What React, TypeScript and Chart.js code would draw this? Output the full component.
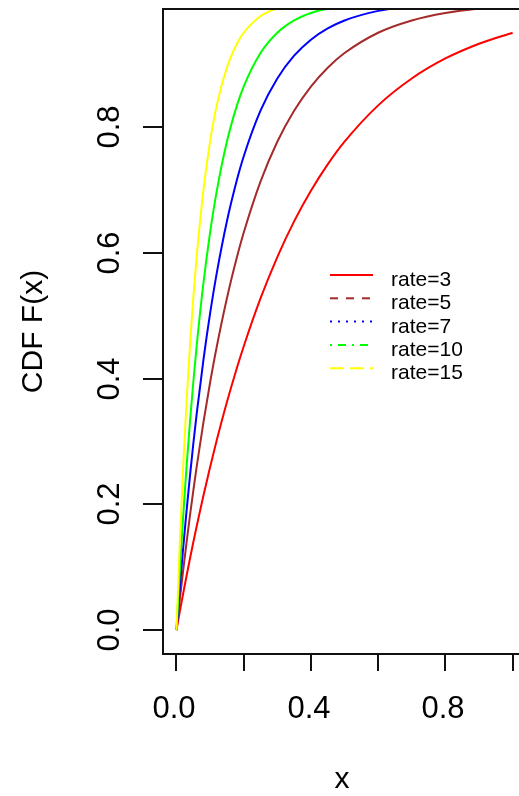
import React, { useEffect, useRef } from "react";
import { Chart, registerables } from "chart.js";

Chart.register(...registerables);

// ---- data ----
const xValues = [0, 0.01, 0.02, 0.03, 0.04, 0.05, 0.06, 0.08, 0.1, 0.12, 0.15, 0.18, 0.2, 0.25, 0.3, 0.35, 0.4, 0.45, 0.5, 0.6, 0.7, 0.8, 0.9, 1.0];
const rate3 = [0, 0.0296, 0.0582, 0.0861, 0.1131, 0.1393, 0.1647, 0.2134, 0.2592, 0.3023, 0.3624, 0.4173, 0.4512, 0.5276, 0.5934, 0.6501, 0.6988, 0.7408, 0.7769, 0.8347, 0.8775, 0.9093, 0.9328, 0.9502];
const rate5 = [0, 0.0488, 0.0952, 0.1393, 0.1813, 0.2212, 0.2592, 0.3297, 0.3935, 0.4512, 0.5276, 0.5934, 0.6321, 0.7135, 0.7769, 0.8262, 0.8647, 0.8946, 0.9179, 0.9502, 0.9698, 0.9817, 0.9889, 0.9933];
const rate7 = [0, 0.0676, 0.1306, 0.1894, 0.2442, 0.2953, 0.343, 0.4288, 0.5034, 0.5683, 0.6501, 0.7163, 0.7534, 0.8262, 0.8775, 0.9137, 0.9392, 0.9571, 0.9698, 0.985, 0.9926, 0.9963, 0.9982, 0.9991];
const rate10 = [0, 0.0952, 0.1813, 0.2592, 0.3297, 0.3935, 0.4512, 0.5507, 0.6321, 0.6988, 0.7769, 0.8347, 0.8647, 0.9179, 0.9502, 0.9698, 0.9817, 0.9889, 0.9933, 0.9975, 0.9991, 0.9997, 0.9999, 1.0];
const rate15 = [0, 0.1393, 0.2592, 0.3624, 0.4512, 0.5276, 0.5934, 0.6988, 0.7769, 0.8347, 0.8946, 0.9328, 0.9502, 0.9765, 0.9889, 0.9948, 0.9975, 0.9988, 0.9994, 0.9999, 1.0, 1.0, 1.0, 1.0];

const seriesNames = ["rate=3", "rate=5", "rate=7", "rate=10", "rate=15"];
const seriesValues = [rate3, rate5, rate7, rate10, rate15];

const xTicks = [0, 0.2, 0.4, 0.6, 0.8, 1.0];
const xTickLabels = ["0.0", "", "0.4", "", "0.8", ""];
const yTicks = [0, 0.2, 0.4, 0.6, 0.8];
const yTickLabels = ["0.0", "0.2", "0.4", "0.6", "0.8"];
const xTitle = "x";
const yTitle = "CDF F(x)";

// ---- styles ----
const seriesColors = ["#FF0000", "#A52A2A", "#0000FF", "#00FF00", "#FFFF00"];
const legendDashes: number[][] = [[], [8, 8], [2, 6], [2, 6, 8, 6], [14, 6]];
const FONT = '"Liberation Sans", Arial, sans-serif';
const W = 519;
const H = 796;

const axesPlugin = {
  id: "rAxes",
  afterDraw(chart: any) {
    const { ctx, chartArea, scales } = chart;
    const xs = scales.x;
    const ys = scales.y;
    const { left, top, bottom } = chartArea;
    ctx.save();
    // box
    ctx.strokeStyle = "#111";
    ctx.lineWidth = 2;
    ctx.setLineDash([]);
    ctx.strokeRect(left, top, W + 30 - left, bottom - top);

    // y ticks + labels
    ctx.fillStyle = "#000";
    ctx.font = `31px ${FONT}`;
    yTicks.forEach((v, i) => {
      const py = Math.round(ys.getPixelForValue(v));
      ctx.beginPath();
      ctx.moveTo(left - 20, py);
      ctx.lineTo(left, py);
      ctx.stroke();
      ctx.save();
      ctx.translate(119, py);
      ctx.rotate(-Math.PI / 2);
      ctx.textAlign = "center";
      ctx.textBaseline = "alphabetic";
      ctx.fillText(yTickLabels[i], 0, 0);
      ctx.restore();
    });

    // x ticks + labels
    xTicks.forEach((v, i) => {
      const px = Math.round(xs.getPixelForValue(v));
      ctx.beginPath();
      ctx.moveTo(px, bottom);
      ctx.lineTo(px, bottom + 17);
      ctx.stroke();
      if (xTickLabels[i]) {
        ctx.textAlign = "center";
        ctx.textBaseline = "alphabetic";
        ctx.fillText(xTickLabels[i], px - 2, 718);
      }
    });

    // titles
    ctx.font = `30px ${FONT}`;
    ctx.textAlign = "center";
    ctx.textBaseline = "alphabetic";
    ctx.fillText(xTitle, 342, 788);
    ctx.save();
    ctx.translate(42, (top + bottom) / 2);
    ctx.rotate(-Math.PI / 2);
    ctx.fillText(yTitle, 0, 0);
    ctx.restore();

    // legend
    ctx.font = `21px ${FONT}`;
    ctx.textAlign = "left";
    seriesNames.forEach((name, i) => {
      const ly = 275 + i * 23.3;
      ctx.strokeStyle = seriesColors[i];
      ctx.lineWidth = 2;
      ctx.setLineDash(legendDashes[i]);
      ctx.beginPath();
      ctx.moveTo(330, ly);
      ctx.lineTo(373, ly);
      ctx.stroke();
      ctx.setLineDash([]);
      ctx.fillStyle = "#000";
      ctx.fillText(name, 391, ly + 11);
    });
    ctx.restore();
  },
};

export default function App() {
  const ref = useRef<HTMLCanvasElement | null>(null);
  useEffect(() => {
    document.body.style.margin = "0";
    const canvas = ref.current;
    if (!canvas) return;
    const datasets = seriesValues.map((vals, i) => ({
      label: seriesNames[i],
      data: xValues.map((x, j) => ({ x, y: vals[j] })),
      borderColor: seriesColors[i],
      backgroundColor: seriesColors[i],
      borderWidth: 2,
      pointRadius: 0,
      fill: false,
      cubicInterpolationMode: "monotone" as const,
      order: seriesNames.length - 1 - i,
      clip: 0,
    }));
    const chart = new Chart(canvas, {
      type: "line",
      data: { datasets },
      options: {
        responsive: false,
        animation: false,
        devicePixelRatio: 1,
        layout: { padding: { left: 163, top: 9, right: 0, bottom: H - 654 } },
        plugins: { legend: { display: false }, tooltip: { enabled: false } },
        scales: {
          x: { type: "linear", min: -0.04, max: 1.019, display: false },
          y: { type: "linear", min: -0.038, max: 0.988, display: false },
        },
      },
      plugins: [axesPlugin],
    });
    return () => chart.destroy();
  }, []);
  return (
    <canvas
      ref={ref}
      width={W}
      height={H}
      style={{ display: "block", width: W, height: H, background: "#fff" }}
    />
  );
}
